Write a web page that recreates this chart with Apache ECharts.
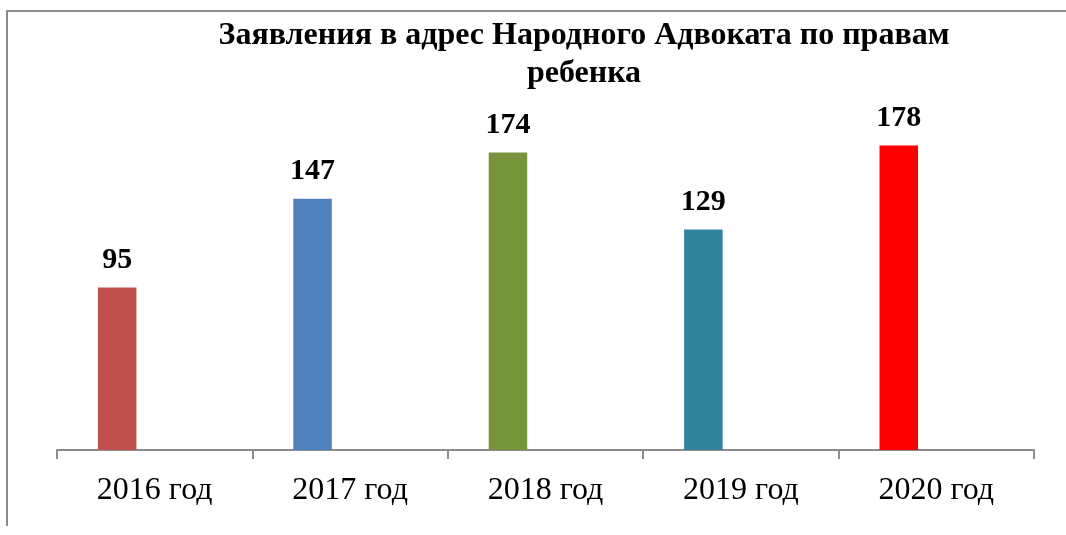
<!DOCTYPE html>
<html>
<head>
<meta charset="utf-8">
<script src="https://cdn.jsdelivr.net/npm/echarts@6/dist/echarts.min.js"></script>
<style>
  html, body { margin: 0; padding: 0; background: #fff; }
  #chart { width: 1066px; height: 535px; }
</style>
</head>
<body>
<div id="chart"></div>
<script>
// Заявления по годам
const titleText = 'Заявления в адрес Народного Адвоката по правам\nребенка';
const categories = ['2016 год', '2017 год', '2018 год', '2019 год', '2020 год'];
const values = [95, 147, 174, 129, 178];
const barColors = ['#C0504D', '#4F81BD', '#77933C', '#31849B', '#FF0000'];

const chart = echarts.init(document.getElementById('chart'));

chart.setOption({
  backgroundColor: '#fff',
  animation: false,
  title: {
    text: titleText,
    left: 579,
    top: 12,
    textAlign: 'center',
    textStyle: {
      fontFamily: 'Liberation Serif',
      fontWeight: 'bold',
      fontSize: 32,
      lineHeight: 38,
      color: '#000'
    }
  },
  // рамка слева и сверху
  graphic: [{
    type: 'polyline',
    shape: { points: [[7, 526], [7, 11], [1066, 11]] },
    style: { stroke: '#8c8c8c', lineWidth: 2, fill: null }
  }],
  grid: { left: 57, right: 32, top: 108, bottom: 85 },
  xAxis: {
    type: 'category',
    data: categories,
    axisLine: { lineStyle: { color: '#8c8c8c', width: 2 } },
    axisTick: { show: true, length: 9, lineStyle: { color: '#8c8c8c', width: 2 } },
    axisLabel: {
      margin: 25,
      fontFamily: 'Liberation Serif',
      fontSize: 32,
      color: '#000'
    }
  },
  yAxis: {
    type: 'value',
    min: 0,
    max: 200,
    show: false
  },
  series: [{
    type: 'bar',
    barWidth: 38.5,
    barGap: '95%',
    data: values.map(function (v, i) {
      return { value: v, itemStyle: { color: barColors[i] } };
    }),
    label: {
      show: true,
      position: 'top',
      distance: 12,
      fontFamily: 'Liberation Serif',
      fontWeight: 'bold',
      fontSize: 30,
      color: '#000'
    }
  }, {
    // пустая серия — сдвигает столбцы влево, как в исходнике
    type: 'bar',
    barWidth: 38.5,
    data: categories.map(function () { return '-'; })
  }]
});
</script>
</body>
</html>
